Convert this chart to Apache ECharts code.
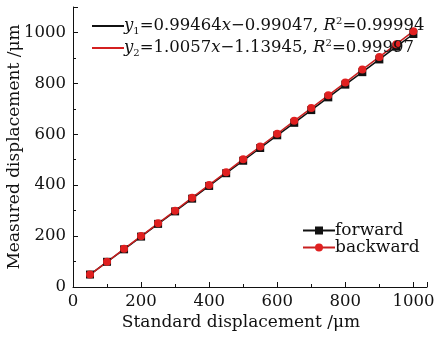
<!DOCTYPE html>
<html>
<head>
<meta charset="utf-8">
<script src="https://cdn.jsdelivr.net/npm/echarts@6/dist/echarts.min.js"></script>
<style>
  html, body { margin: 0; padding: 0; background: #fff; }
  #chart { width: 447px; height: 338px; }
</style>
</head>
<body>
<div id="chart"></div>
<script>
// standard displacement (um)
const standard = [50, 100, 150, 200, 250, 300, 350, 400, 450, 500,
  550, 600, 650, 700, 750, 800, 850, 900, 950, 1000];
// measured displacement, forward stroke
const forward = [49, 99, 148, 198, 248, 297, 347, 397, 447, 496,
  546, 596, 645, 695, 745, 795, 844, 894, 944, 994];
// measured displacement, backward stroke
const backward = [49, 99, 150, 200, 250, 300, 351, 401, 451, 502,
  552, 602, 653, 703, 753, 803, 854, 904, 954, 1005];

const FONT = 'DejaVu Serif';

const chart = echarts.init(document.getElementById('chart'));

const pairs = (ys) => standard.map((x, i) => [x, ys[i]]);

// fit equations shown in the top-left legend
const fitText = {
  'fit1': '{i|y}{s|1}{n|=0.99464}{i|x}{n|\u22120.99047, }{i|R}{p|2}{n|=0.99994}',
  'fit2': '{i|y}{s|2}{n|=1.0057}{i|x}{n|\u22121.13945, }{i|R}{p|2}{n|=0.99997}'
};

const eqRich = {
  n: { fontFamily: FONT, fontSize: 16.5, color: '#111', lineHeight: 20, verticalAlign: 'middle' },
  i: { fontFamily: FONT, fontSize: 16.5, fontStyle: 'italic', color: '#111', lineHeight: 20, verticalAlign: 'middle' },
  s: { fontFamily: FONT, fontSize: 10, color: '#111', lineHeight: 20, verticalAlign: 'bottom' },
  p: { fontFamily: FONT, fontSize: 10, color: '#111', lineHeight: 20, verticalAlign: 'top' }
};

const plain = (v) => String(v);

const option = {
  animation: false,
  grid: { left: 73, right: 20, top: 7, bottom: 51, outerBoundsMode: 'none', containLabel: false },
  legend: [
    {
      data: ['fit1', 'fit2'],
      left: 86,
      top: 11,
      orient: 'vertical',
      itemWidth: 32,
      itemHeight: 10,
      itemGap: 2,
      itemStyle: { opacity: 0 },
      formatter: (name) => fitText[name],
      textStyle: { rich: eqRich, padding: [0, 0, 0, -5] }
    },
    {
      data: ['forward', 'backward'],
      left: 297,
      top: 217,
      orient: 'vertical',
      itemWidth: 32,
      itemHeight: 10,
      itemGap: 0,
      textStyle: { fontFamily: FONT, fontSize: 17, color: '#111', lineHeight: 13, padding: [0, 0, 0, -5] }
    }
  ],
  xAxis: {
    type: 'value',
    min: 0,
    max: 1040,
    interval: 200,
    name: 'Standard displacement /\u03bcm',
    nameLocation: 'middle',
    nameGap: 27,
    nameMoveOverlap: false,
    nameTextStyle: { fontFamily: FONT, fontSize: 17, color: '#111', padding: [0, 18, 0, 0] },
    axisLine: { lineStyle: { color: '#111', width: 1 } },
    axisTick: { inside: true, length: 5, lineStyle: { color: '#111' } },
    minorTick: { show: true, splitNumber: 2, length: 3, lineStyle: { color: '#111' } },
    axisLabel: { fontFamily: FONT, fontSize: 16.5, color: '#111', margin: 6, showMaxLabel: false, formatter: plain },
    splitLine: { show: false }
  },
  yAxis: {
    type: 'value',
    min: 0,
    max: 1100,
    interval: 200,
    name: 'Measured displacement /\u03bcm',
    nameLocation: 'middle',
    nameGap: 50,
    nameMoveOverlap: false,
    nameTextStyle: { fontFamily: FONT, fontSize: 17, color: '#111' },
    axisLine: { show: true, lineStyle: { color: '#111', width: 1 } },
    axisTick: { show: true, inside: true, length: 5, lineStyle: { color: '#111' } },
    minorTick: { show: true, splitNumber: 2, length: 3, lineStyle: { color: '#111' } },
    axisLabel: { fontFamily: FONT, fontSize: 16.5, color: '#111', margin: 7, showMaxLabel: false, formatter: plain },
    splitLine: { show: false }
  },
  series: [
    {
      name: 'fit1', type: 'line', data: [], symbol: 'none',
      color: '#111', lineStyle: { color: '#111', width: 1.3 }
    },
    {
      name: 'fit2', type: 'line', data: [], symbol: 'none',
      color: '#d42020', lineStyle: { color: '#d42020', width: 1.3 }
    },
    {
      name: 'forward', type: 'line', data: pairs(forward),
      symbol: 'rect', symbolSize: 8,
      color: '#111',
      itemStyle: { color: '#111' },
      lineStyle: { color: '#111', width: 1.5 }
    },
    {
      name: 'backward', type: 'line', data: pairs(backward),
      symbol: 'circle', symbolSize: 8,
      color: '#e02020',
      itemStyle: { color: '#e02020' },
      lineStyle: { color: '#c82020', width: 1.5 }
    }
  ]
};

chart.setOption(option);
</script>
</body>
</html>
